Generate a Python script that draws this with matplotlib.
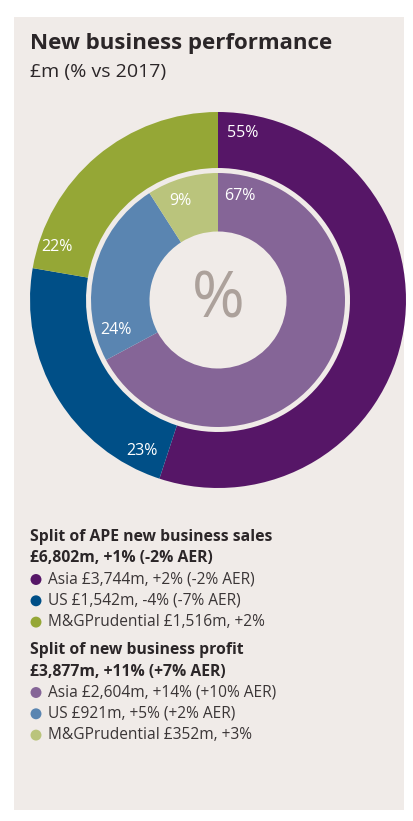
import numpy as np
import matplotlib.pyplot as plt
from matplotlib.patches import Rectangle

plt.rcParams['font.family'] = ['Open Sans', 'DejaVu Sans']

# dane
segmenty = ['Asia', 'US', 'M&GPrudential']
sprzedaz = [3744, 1542, 1516]          # APE new business sales, £m
zysk = [2604, 921, 352]                # new business profit, £m
sprzedaz_pct = ['55%', '23%', '22%']
zysk_pct = ['67%', '24%', '9%']

kolory_zew = ['#561667', '#004f87', '#95a736']
kolory_wew = ['#856597', '#5a85b1', '#bac47c']

naglowek_1 = ['Split of APE new business sales', '£6,802m, +1% (-2% AER)']
legenda_1 = ['Asia £3,744m, +2% (-2% AER)', 'US £1,542m, -4% (-7% AER)',
             'M&GPrudential £1,516m, +2%']
naglowek_2 = ['Split of new business profit', '£3,877m, +11% (+7% AER)']
legenda_2 = ['Asia £2,604m, +14% (+10% AER)', 'US £921m, +5% (+2% AER)',
             'M&GPrudential £352m, +3%']

W, H = 414, 821
tlo = '#f0ebe8'
tekst = '#2b2628'

fig = plt.figure(figsize=(W / 100, H / 100), dpi=100)
fig.patch.set_facecolor('white')

# warstwa w pikselach
ov = fig.add_axes([0, 0, 1, 1])
ov.set_xlim(0, W)
ov.set_ylim(H, 0)
ov.axis('off')
ov.add_patch(Rectangle((14, 17), 390, 793, facecolor=tlo, edgecolor='none'))

# donut
cx, cy, R = 218, 300, 188
ax = fig.add_axes([(cx - R) / W, (H - cy - R) / H, 2 * R / W, 2 * R / H])
ax.axis('off')

r_zew_in = 132 / R
r_wew_out = 127 / R
r_wew_in = 68.5 / R

w_zew, _ = ax.pie(sprzedaz, colors=kolory_zew, startangle=90, counterclock=False,
                  radius=1, wedgeprops=dict(width=1 - r_zew_in, linewidth=0))
w_wew, _ = ax.pie(zysk, colors=kolory_wew, startangle=90, counterclock=False,
                  radius=r_wew_out, wedgeprops=dict(width=r_wew_out - r_wew_in, linewidth=0))
ax.set_xlim(-1, 1)
ax.set_ylim(-1, 1)

def etykiety(klin, teksty, r, off):
    for w, t in zip(klin, teksty):
        a = np.deg2rad(w.theta2 - off)
        ax.text(r * np.cos(a), r * np.sin(a), t, color='white', fontsize=11.5,
                ha='center', va='center')

etykiety(w_zew, sprzedaz_pct, 0.9, 8.5)
etykiety(w_wew, zysk_pct, 0.565, 12)
ax.text(0, 0.0, '%', color='#aca19b', fontsize=46, ha='center', va='center')

# tytuł
ov.text(30, 44, 'New business performance', fontsize=16, fontweight='bold',
        color=tekst, va='center')
ov.text(30, 72, '£m (% vs 2017)', fontsize=14, color=tekst, va='center')

# legenda
def blok(y0, naglowek, pozycje, kolory):
    for i, t in enumerate(naglowek):
        ov.text(30, y0 + i * 21.5, t, fontsize=11.3, fontweight='bold', color=tekst,
                va='center')
    for i, (t, k) in enumerate(zip(pozycje, kolory)):
        y = y0 + 42.5 + i * 21.3
        ov.scatter([36], [y], s=62, color=k, edgecolor='none')
        ov.text(48, y, t, fontsize=11.2, color='#3a3536', va='center')

blok(537, naglowek_1, legenda_1, kolory_zew)
blok(650, naglowek_2, legenda_2, kolory_wew)

fig.savefig('out.png', dpi=100, facecolor=fig.get_facecolor())
